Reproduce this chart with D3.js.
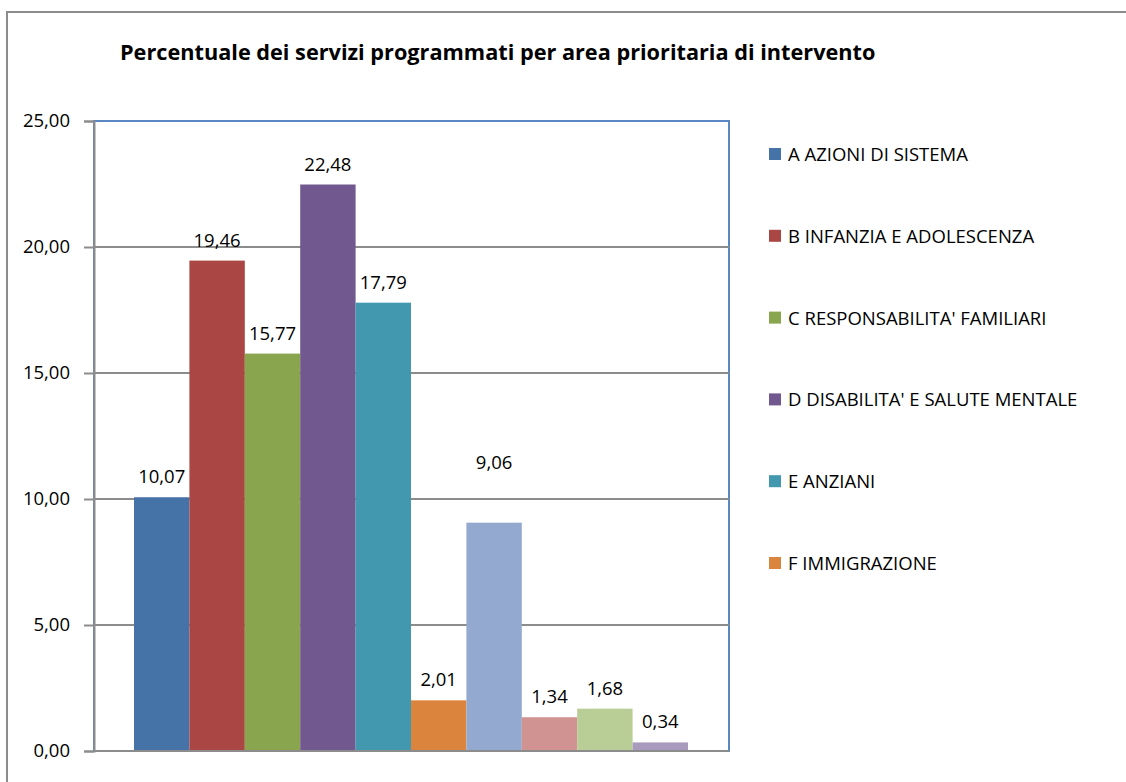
<!doctype html>
<html lang="it">
  <head>
    <meta charset="utf-8">
    <style>
      body { margin: 0; background: #fff; }
      svg text { font-family: "Open Sans", sans-serif; fill: #000; }
    </style>
    <title>Percentuale dei servizi programmati</title>
  </head>
  <body>
    <div id="chart"></div>

    <script src="https://d3js.org/d3.v7.min.js"></script>
    <script type="text/javascript">
      const w = 1126;
      const h = 782;

      // data
      const categories = [
        "A AZIONI DI SISTEMA",
        "B INFANZIA E ADOLESCENZA",
        "C RESPONSABILITA' FAMILIARI",
        "D DISABILITA' E SALUTE MENTALE",
        "E ANZIANI",
        "F IMMIGRAZIONE",
        "G",
        "H",
        "I",
        "J"
      ];
      const values = [10.07, 19.46, 15.77, 22.48, 17.79, 2.01, 9.06, 1.34, 1.68, 0.34];
      const colors = ["#4572a7", "#aa4643", "#89a54e", "#71588f", "#4198af",
                      "#db843d", "#93a9cf", "#d19392", "#b9cd96", "#a99bbd"];
      const yTicks = [0, 5, 10, 15, 20, 25];
      // only the first six series fit in the legend
      const legendItems = categories.slice(0, 6);

      const fmt = v => d3.format(".2f")(v).replace(".", ",");

      const plot = {left: 94, top: 121, right: 729, bottom: 751};

      const svg = d3.select('#chart')
                    .append('svg')
                    .attr("width", w)
                    .attr("height", h);

      // outer chart frame
      svg.append('rect')
        .attr('x', 7)
        .attr('y', 12)
        .attr('width', w + 20)
        .attr('height', h + 20)
        .attr('fill', 'none')
        .attr('stroke', '#8c8c8c')
        .attr('stroke-width', 2);

      svg.append('text')
        .attr('x', 120)
        .attr('y', 60)
        .attr('font-size', 21.7)
        .attr('font-weight', 'bold')
        .text('Percentuale dei servizi programmati per area prioritaria di intervento');

      const y = d3.scaleLinear()
                  .domain([0, 25])
                  .range([plot.bottom, plot.top]);

      const x = d3.scaleBand()
                  .domain(categories)
                  .range([plot.left + 40, plot.right - 41]);

      // plot area border
      svg.append('rect')
        .attr('x', plot.left)
        .attr('y', plot.top)
        .attr('width', plot.right - plot.left)
        .attr('height', plot.bottom - plot.top)
        .attr('fill', 'none')
        .attr('stroke', '#5b87c2')
        .attr('stroke-width', 2);

      // gridlines
      svg.selectAll('.grid')
         .data(yTicks.filter(d => d > 0 && d < 25))
         .enter()
         .append('line')
         .attr('class', 'grid')
         .attr('x1', plot.left)
         .attr('x2', plot.right)
         .attr('y1', d => y(d))
         .attr('y2', d => y(d))
         .attr('stroke', '#8c8c8c')
         .attr('stroke-width', 2);

      // bars
      svg.selectAll('.bar')
         .data(values)
         .enter()
         .append('rect')
         .attr('class', 'bar')
         .attr('x', (d, i) => x(categories[i]))
         .attr('y', d => y(d))
         .attr('width', x.bandwidth())
         .attr('height', d => y(0) - y(d))
         .attr('fill', (d, i) => colors[i]);

      // y axis
      const yAxis = d3.axisLeft(y)
                      .tickValues(yTicks)
                      .tickSize(10)
                      .tickPadding(14)
                      .tickFormat(fmt);

      const gy = svg.append('g')
        .attr('transform', `translate(${plot.left},0)`)
        .call(yAxis);
      gy.select('.domain').attr('stroke', '#8c8c8c').attr('stroke-width', 2);
      gy.selectAll('.tick line').attr('stroke', '#8c8c8c').attr('stroke-width', 2);
      gy.selectAll('.tick text')
        .attr('font-size', 18.5)
        .attr('font-family', '"Open Sans", sans-serif')
        .attr('fill', '#000');

      // x axis line
      svg.append('line')
        .attr('x1', plot.left)
        .attr('x2', plot.right)
        .attr('y1', y(0))
        .attr('y2', y(0))
        .attr('stroke', '#8c8c8c')
        .attr('stroke-width', 2);

      // value labels (the 9,06 label was moved up by hand in the original)
      const labelLift = {6: 40};
      svg.selectAll('.vlabel')
         .data(values)
         .enter()
         .append('text')
         .attr('class', 'vlabel')
         .attr('x', (d, i) => x(categories[i]) + x.bandwidth() / 2)
         .attr('y', (d, i) => y(d) - 14 - (labelLift[i] || 0))
         .attr('text-anchor', 'middle')
         .attr('font-size', 18.5)
         .text(fmt);

      // legend
      const legend = svg.selectAll('.legend')
         .data(legendItems)
         .enter()
         .append('g')
         .attr('class', 'legend')
         .attr('transform', (d, i) => `translate(769,${154 + i * 81.8})`);

      legend.append('rect')
        .attr('x', 0)
        .attr('y', -6)
        .attr('width', 12)
        .attr('height', 12)
        .attr('fill', (d, i) => colors[i]);

      legend.append('text')
        .attr('x', 19)
        .attr('y', 7)
        .attr('font-size', 18.5)
        .text(d => d);
    </script>
  </body>
</html>
